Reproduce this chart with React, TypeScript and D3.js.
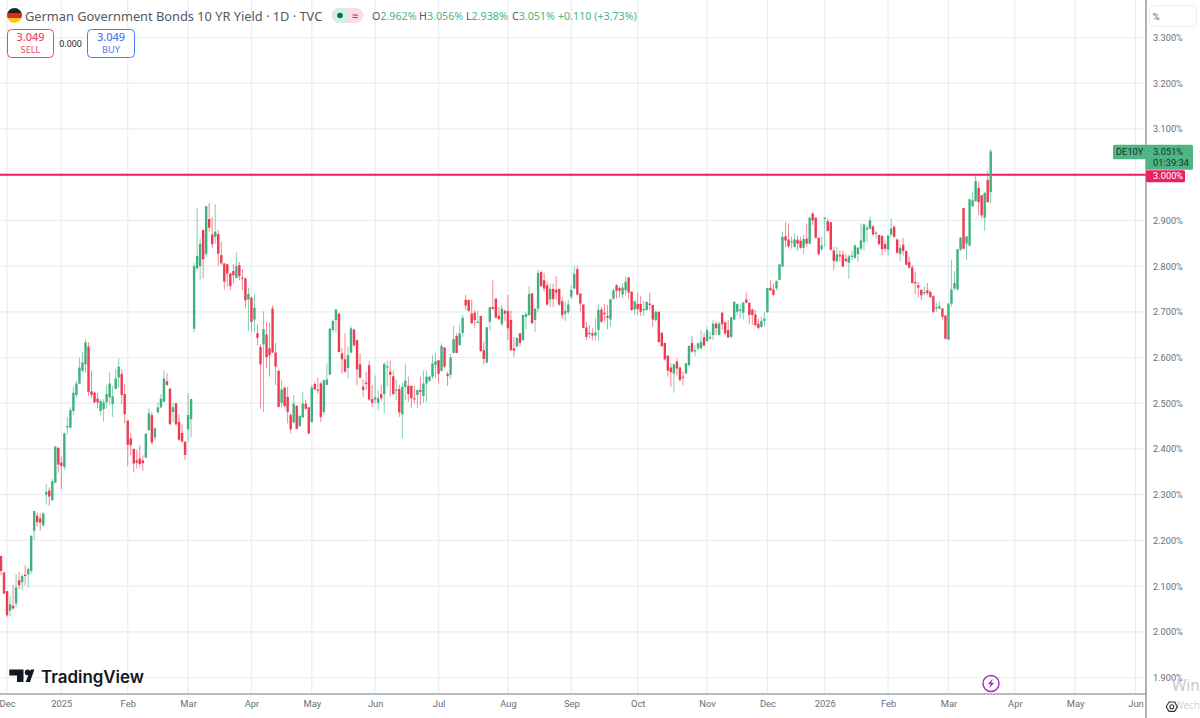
import React, { useRef, useEffect } from 'react';
import * as d3 from 'd3';

type Ohlc = [number, number, number, number]; // open, high, low, close

const dec2024: Ohlc[] = [
  [2.166,2.166,2.124,2.133],[2.130,2.130,2.082,2.084],[2.089,2.089,2.033,2.036],[2.046,2.078,2.033,2.060],[2.057,2.102,2.049,2.051],
  [2.062,2.126,2.053,2.097],[2.113,2.131,2.093,2.102],[2.108,2.127,2.092,2.122],[2.125,2.146,2.102,2.122],[2.126,2.141,2.097,2.137],
  [2.133,2.211,2.126,2.210],[2.221,2.264,2.201,2.264],[2.254,2.261,2.230,2.240],[2.248,2.259,2.221,2.239],[2.233,2.261,2.230,2.259],
  [2.300,2.323,2.278,2.306],[2.309,2.316,2.275,2.296],[2.288,2.334,2.286,2.329],[2.326,2.407,2.325,2.405],[2.402,2.405,2.348,2.366],
];
const jan2025: Ohlc[] = [
  [2.370,2.383,2.312,2.363],[2.361,2.436,2.354,2.434],[2.447,2.470,2.432,2.450],[2.447,2.491,2.443,2.485],[2.483,2.537,2.474,2.523],
  [2.518,2.549,2.512,2.543],[2.543,2.600,2.542,2.578],[2.571,2.612,2.567,2.589],[2.585,2.640,2.567,2.633],[2.624,2.633,2.516,2.525],
  [2.526,2.571,2.511,2.518],[2.523,2.525,2.500,2.502],[2.510,2.523,2.489,2.502],[2.483,2.509,2.474,2.505],[2.487,2.509,2.460,2.502],
  [2.502,2.540,2.489,2.520],[2.513,2.569,2.496,2.543],[2.498,2.538,2.470,2.515],[2.531,2.575,2.531,2.554],[2.556,2.598,2.534,2.580],
  [2.564,2.575,2.498,2.518],[2.520,2.542,2.456,2.476],
];
const feb2025: Ohlc[] = [
  [2.462,2.462,2.363,2.409],[2.423,2.436,2.386,2.408],[2.400,2.400,2.349,2.368],[2.375,2.398,2.357,2.370],[2.379,2.409,2.359,2.367],
  [2.375,2.386,2.352,2.369],[2.381,2.435,2.380,2.433],[2.441,2.489,2.440,2.478],[2.474,2.481,2.410,2.414],[2.425,2.447,2.418,2.445],
  [2.480,2.502,2.478,2.491],[2.491,2.520,2.489,2.510],[2.503,2.571,2.502,2.554],[2.548,2.566,2.538,2.540],[2.532,2.532,2.452,2.454],
  [2.481,2.500,2.458,2.491],[2.500,2.500,2.451,2.454],[2.459,2.476,2.418,2.420],[2.435,2.454,2.414,2.416],[2.416,2.416,2.376,2.387],
];
const mar2025: Ohlc[] = [
  [2.443,2.521,2.416,2.474],[2.465,2.510,2.425,2.509],[2.663,2.807,2.656,2.800],[2.795,2.928,2.793,2.822],[2.800,2.860,2.771,2.849],
  [2.879,2.879,2.773,2.815],[2.827,2.931,2.820,2.931],[2.903,2.938,2.875,2.884],[2.869,2.908,2.840,2.848],[2.864,2.935,2.849,2.875],
  [2.870,2.879,2.800,2.827],[2.824,2.853,2.802,2.806],[2.806,2.806,2.749,2.766],[2.804,2.804,2.755,2.784],[2.784,2.785,2.747,2.756],
  [2.789,2.804,2.762,2.780],[2.774,2.830,2.773,2.800],[2.802,2.809,2.769,2.778],[2.775,2.793,2.747,2.773],[2.773,2.775,2.707,2.725],
  [2.727,2.753,2.658,2.739],
];
const apr2025: Ohlc[] = [
  [2.731,2.733,2.656,2.678],[2.683,2.739,2.656,2.709],[2.653,2.672,2.626,2.643],[2.623,2.629,2.488,2.585],[2.629,2.701,2.481,2.662],
  [2.650,2.678,2.576,2.601],[2.620,2.676,2.558,2.605],[2.707,2.714,2.609,2.611],[2.611,2.632,2.540,2.580],[2.571,2.572,2.491,2.492],
  [2.501,2.550,2.491,2.530],[2.534,2.536,2.492,2.494],[2.514,2.536,2.456,2.481],[2.474,2.478,2.435,2.443],[2.458,2.518,2.456,2.499],
  [2.494,2.496,2.443,2.444],[2.450,2.474,2.448,2.472],[2.469,2.525,2.467,2.499],[2.499,2.507,2.486,2.488],[2.491,2.492,2.432,2.434],
];
const may2025: Ohlc[] = [
  [2.459,2.540,2.457,2.534],[2.542,2.547,2.529,2.530],[2.530,2.556,2.521,2.529],[2.543,2.547,2.459,2.470],[2.481,2.552,2.474,2.550],
  [2.540,2.587,2.539,2.552],[2.563,2.665,2.561,2.663],[2.660,2.683,2.654,2.680],[2.682,2.707,2.656,2.705],[2.696,2.698,2.611,2.612],
  [2.609,2.620,2.565,2.596],[2.596,2.653,2.567,2.569],[2.577,2.623,2.554,2.605],[2.611,2.669,2.609,2.664],[2.661,2.663,2.623,2.627],
  [2.638,2.639,2.540,2.574],[2.585,2.609,2.554,2.556],[2.536,2.552,2.514,2.529],[2.545,2.569,2.529,2.542],[2.583,2.593,2.505,2.508],
  [2.509,2.540,2.492,2.501],
];
const jun2025: Ohlc[] = [
  [2.508,2.561,2.499,2.513],[2.501,2.529,2.485,2.511],[2.520,2.540,2.505,2.511],[2.520,2.589,2.478,2.586],[2.578,2.593,2.536,2.581],
  [2.569,2.593,2.514,2.562],[2.559,2.571,2.517,2.520],[2.529,2.551,2.507,2.530],[2.531,2.540,2.470,2.480],[2.476,2.545,2.423,2.536],
  [2.536,2.587,2.507,2.549],[2.538,2.558,2.503,2.520],[2.538,2.538,2.490,2.511],[2.511,2.538,2.500,2.509],[2.518,2.529,2.489,2.529],
  [2.529,2.558,2.496,2.525],[2.516,2.571,2.500,2.543],[2.543,2.571,2.503,2.558],[2.549,2.559,2.547,2.558],[2.558,2.605,2.554,2.587],
  [2.584,2.610,2.554,2.592],
];
const jul2025: Ohlc[] = [
  [2.594,2.594,2.543,2.564],[2.571,2.631,2.569,2.625],[2.622,2.622,2.576,2.580],[2.564,2.569,2.538,2.559],[2.562,2.609,2.554,2.600],
  [2.610,2.669,2.609,2.640],[2.647,2.653,2.609,2.610],[2.627,2.672,2.626,2.653],[2.654,2.693,2.645,2.687],[2.726,2.737,2.704,2.714],
  [2.726,2.726,2.700,2.702],[2.696,2.727,2.673,2.675],[2.698,2.704,2.665,2.682],[2.676,2.702,2.675,2.678],[2.691,2.691,2.612,2.614],
  [2.616,2.635,2.585,2.597],[2.589,2.667,2.587,2.666],[2.678,2.711,2.660,2.710],[2.710,2.769,2.705,2.706],[2.729,2.729,2.686,2.687],
  [2.691,2.711,2.682,2.684],[2.673,2.715,2.669,2.707],[2.702,2.705,2.680,2.696],
];
const aug2025: Ohlc[] = [
  [2.702,2.737,2.638,2.664],[2.682,2.702,2.615,2.616],[2.620,2.645,2.602,2.615],[2.624,2.643,2.622,2.643],[2.653,2.653,2.624,2.632],
  [2.638,2.693,2.637,2.693],[2.689,2.700,2.662,2.695],[2.693,2.756,2.691,2.739],[2.740,2.742,2.673,2.675],[2.682,2.707,2.656,2.707],
  [2.707,2.793,2.700,2.785],[2.787,2.790,2.755,2.756],[2.769,2.785,2.744,2.751],[2.758,2.766,2.713,2.716],[2.727,2.762,2.711,2.750],
  [2.750,2.762,2.710,2.728],[2.748,2.778,2.726,2.742],[2.750,2.751,2.713,2.716],[2.723,2.733,2.686,2.693],[2.696,2.722,2.680,2.702],
  [2.699,2.726,2.695,2.716],
];
const sep2025: Ohlc[] = [
  [2.733,2.758,2.728,2.748],[2.751,2.800,2.749,2.783],[2.793,2.800,2.735,2.738],[2.740,2.740,2.700,2.718],[2.716,2.716,2.664,2.665],
  [2.666,2.678,2.638,2.645],[2.654,2.671,2.642,2.653],[2.653,2.664,2.638,2.648],[2.648,2.686,2.637,2.655],[2.660,2.717,2.637,2.704],
  [2.705,2.711,2.676,2.678],[2.698,2.718,2.680,2.695],[2.691,2.715,2.662,2.687],[2.683,2.729,2.667,2.727],[2.729,2.751,2.726,2.747],
  [2.758,2.760,2.729,2.746],[2.752,2.756,2.731,2.746],[2.738,2.762,2.729,2.753],[2.747,2.778,2.735,2.766],[2.775,2.775,2.729,2.742],
  [2.744,2.744,2.702,2.704],[2.705,2.724,2.693,2.723],
];
const oct2025: Ohlc[] = [
  [2.717,2.742,2.693,2.706],[2.717,2.734,2.691,2.700],[2.704,2.724,2.691,2.706],[2.704,2.722,2.702,2.722],[2.718,2.742,2.704,2.715],
  [2.715,2.715,2.667,2.683],[2.682,2.704,2.678,2.700],[2.700,2.700,2.632,2.634],[2.654,2.656,2.623,2.625],[2.632,2.632,2.594,2.596],
  [2.604,2.605,2.558,2.571],[2.578,2.587,2.536,2.568],[2.565,2.587,2.523,2.585],[2.591,2.598,2.561,2.576],[2.578,2.580,2.547,2.551],
  [2.558,2.569,2.540,2.556],[2.565,2.588,2.564,2.587],[2.583,2.627,2.581,2.625],[2.632,2.647,2.610,2.613],[2.614,2.627,2.603,2.616],
  [2.620,2.632,2.616,2.631],[2.620,2.660,2.618,2.634],[2.644,2.653,2.625,2.626],
];
const nov2025: Ohlc[] = [
  [2.636,2.667,2.634,2.660],[2.642,2.656,2.638,2.645],[2.649,2.682,2.638,2.674],[2.674,2.678,2.649,2.664],[2.649,2.678,2.649,2.674],
  [2.698,2.699,2.661,2.673],[2.677,2.678,2.649,2.653],[2.660,2.682,2.642,2.644],[2.645,2.689,2.642,2.688],[2.683,2.723,2.682,2.722],
  [2.700,2.718,2.693,2.717],[2.702,2.718,2.685,2.705],[2.698,2.722,2.683,2.720],[2.727,2.742,2.718,2.720],[2.720,2.720,2.673,2.693],
  [2.705,2.707,2.671,2.693],[2.694,2.704,2.667,2.671],[2.674,2.685,2.661,2.665],[2.667,2.689,2.665,2.680],[2.680,2.700,2.667,2.685],
];
const dec2025: Ohlc[] = [
  [2.699,2.753,2.698,2.752],[2.752,2.769,2.745,2.747],[2.749,2.762,2.735,2.737],[2.751,2.769,2.747,2.767],[2.770,2.805,2.769,2.804],
  [2.799,2.875,2.798,2.864],[2.865,2.896,2.842,2.856],[2.858,2.893,2.840,2.843],[2.851,2.864,2.838,2.854],[2.842,2.871,2.840,2.858],
  [2.858,2.867,2.834,2.849],[2.855,2.864,2.838,2.840],[2.840,2.869,2.827,2.859],[2.860,2.893,2.842,2.849],[2.849,2.906,2.848,2.906],
  [2.915,2.918,2.889,2.900],[2.906,2.906,2.860,2.862],[2.862,2.862,2.823,2.826],[2.837,2.864,2.833,2.845],
];
const jan2026: Ohlc[] = [
  [2.904,2.906,2.842,2.906],[2.898,2.904,2.875,2.877],[2.896,2.896,2.834,2.836],[2.834,2.842,2.791,2.811],[2.811,2.842,2.807,2.826],
  [2.824,2.834,2.809,2.821],[2.825,2.834,2.798,2.799],[2.816,2.827,2.807,2.811],[2.807,2.826,2.772,2.821],[2.820,2.834,2.813,2.823],
  [2.818,2.848,2.816,2.845],[2.826,2.842,2.809,2.840],[2.838,2.893,2.834,2.856],[2.853,2.893,2.834,2.891],[2.880,2.889,2.853,2.884],
  [2.882,2.909,2.880,2.900],[2.887,2.889,2.867,2.869],[2.871,2.878,2.860,2.873],[2.868,2.869,2.845,2.848],[2.866,2.867,2.823,2.837],
  [2.848,2.856,2.831,2.838],
];
const feb2026: Ohlc[] = [
  [2.836,2.867,2.823,2.867],[2.869,2.904,2.864,2.882],[2.886,2.889,2.862,2.864],[2.858,2.861,2.827,2.829],[2.827,2.848,2.811,2.840],
  [2.847,2.861,2.823,2.833],[2.833,2.834,2.802,2.803],[2.809,2.821,2.794,2.797],[2.797,2.802,2.762,2.763],[2.765,2.787,2.738,2.762],
  [2.758,2.765,2.731,2.753],[2.748,2.749,2.725,2.736],[2.740,2.756,2.736,2.743],[2.747,2.763,2.736,2.741],[2.743,2.747,2.730,2.732],
  [2.734,2.736,2.697,2.700],[2.707,2.721,2.700,2.710],[2.707,2.723,2.705,2.712],[2.707,2.708,2.683,2.689],[2.692,2.692,2.640,2.641],
];
const mar2026: Ohlc[] = [
  [2.639,2.718,2.638,2.718],[2.718,2.814,2.711,2.749],[2.751,2.789,2.747,2.763],[2.749,2.837,2.747,2.837],[2.836,2.864,2.833,2.862],
  [2.927,2.927,2.837,2.838],[2.849,2.865,2.813,2.865],[2.845,2.947,2.843,2.946],[2.931,2.962,2.929,2.944],[2.942,2.998,2.940,2.986],
  [2.971,2.984,2.911,2.940],[2.955,2.955,2.904,2.911],[2.906,2.962,2.877,2.960],[2.988,3.009,2.939,2.940],[2.962,3.056,2.938,3.051],
];

const bars: Ohlc[] = [
  ...dec2024, ...jan2025, ...feb2025, ...mar2025, ...apr2025, ...may2025, ...jun2025, ...jul2025,
  ...aug2025, ...sep2025, ...oct2025, ...nov2025, ...dec2025, ...jan2026, ...feb2026, ...mar2026,
];

// bar index of the first session of each month, the last three are in the empty space on the right
const monthBars = [2, 20, 42, 62, 83, 103, 124, 145, 168, 189, 211, 234, 254, 273, 294, 314, 336, 356, 376];
const monthLabels = ['Dec', '2025', 'Feb', 'Mar', 'Apr', 'May', 'Jun', 'Jul', 'Aug', 'Sep', 'Oct', 'Nov', 'Dec', '2026', 'Feb', 'Mar', 'Apr', 'May', 'Jun'];
const priceTicks = [1.9, 2.0, 2.1, 2.2, 2.3, 2.4, 2.5, 2.6, 2.7, 2.8, 2.9, 3.0, 3.1, 3.2, 3.3];

const levelPrice = 3.0;
const lastPrice = 3.051;
const legendOhlc = [['O', '2.962%'], ['H', '3.056%'], ['L', '2.938%'], ['C', '3.051%']];

const WIDTH = 1200;
const HEIGHT = 718;
const AXIS_X = 1146;
const AXIS_Y = 694;
const GREEN = '#3db17e';
const RED = '#ef3a52';
const FONT = '"Noto Sans", sans-serif';
const AXIS_FONT = 'Roboto, sans-serif';

const dibujaGrafico = (svgEl: SVGSVGElement) => {
  const svg = d3.select(svgEl);
  svg.selectAll('*').remove();

  const x = d3.scaleLinear().domain([0, bars.length - 1]).range([1, 990.7]);
  const y = d3.scaleLinear().domain([1.9, 3.3]).range([677.5, 37.5]);

  svg.append('rect').attr('width', WIDTH).attr('height', HEIGHT).attr('fill', '#fff');

  // grid
  const grid = svg.append('g').attr('stroke', '#e7eef4').attr('stroke-width', 1.2);
  monthBars.forEach((b) => {
    grid.append('line').attr('x1', x(b)).attr('x2', x(b)).attr('y1', 0).attr('y2', AXIS_Y);
  });
  priceTicks.forEach((t) => {
    grid.append('line').attr('x1', 0).attr('x2', AXIS_X).attr('y1', y(t)).attr('y2', y(t));
  });

  // 3% level
  svg.append('line')
    .attr('x1', 0).attr('x2', AXIS_X)
    .attr('y1', y(levelPrice)).attr('y2', y(levelPrice))
    .attr('stroke', '#ef1a5e').attr('stroke-width', 2);

  // candles
  const candle = svg.append('g').selectAll('g').data(bars).enter().append('g');
  candle.append('line')
    .attr('x1', (d, i) => x(i)).attr('x2', (d, i) => x(i))
    .attr('y1', (d) => y(d[1])).attr('y2', (d) => y(d[2]))
    .attr('stroke', (d) => (d[3] >= d[0] ? GREEN : RED))
    .attr('stroke-width', 1)
    .attr('stroke-opacity', 0.62);
  candle.append('rect')
    .attr('x', (d, i) => x(i) - 1.2)
    .attr('width', 2.4)
    .attr('y', (d) => y(Math.max(d[0], d[3])))
    .attr('height', (d) => Math.max(1.2, Math.abs(y(d[0]) - y(d[3]))))
    .attr('fill', (d) => (d[3] >= d[0] ? GREEN : RED));

  // axes
  const ejeY = svg.append('g')
    .attr('transform', `translate(${AXIS_X},0)`)
    .call(d3.axisRight(y).tickValues(priceTicks).tickSize(0).tickPadding(7).tickFormat((d) => `${(+d).toFixed(3)}%`));
  ejeY.select('.domain').remove();
  ejeY.selectAll('text')
    .style('font-family', AXIS_FONT).style('font-size', '9.2px').style('fill', '#6a6d78');

  const ejeX = svg.append('g')
    .attr('transform', `translate(0,${AXIS_Y})`)
    .call(d3.axisBottom(x).tickValues(monthBars).tickSize(0).tickPadding(6).tickFormat((d, i) => monthLabels[i]));
  ejeX.select('.domain').remove();
  ejeX.selectAll('text')
    .style('font-family', AXIS_FONT).style('font-size', '9.4px').style('fill', '#6a6d78');

  svg.append('line').attr('x1', 0).attr('x2', AXIS_X).attr('y1', AXIS_Y).attr('y2', AXIS_Y)
    .attr('stroke', '#77797f').attr('stroke-width', 1);
  svg.append('line').attr('x1', AXIS_X).attr('x2', AXIS_X).attr('y1', 0).attr('y2', HEIGHT)
    .attr('stroke', '#8e9094').attr('stroke-width', 1.4);

  // unit button on the price scale
  svg.append('rect').attr('x', 1149.5).attr('y', 5.5).attr('width', 47).attr('height', 21).attr('rx', 4)
    .attr('fill', '#fff').attr('stroke', '#eeeeee');
  svg.append('text').attr('x', 1152.5).attr('y', 19.5).text('%')
    .style('font-family', AXIS_FONT).style('font-size', '9.6px').style('fill', '#4a5a70');

  agregaEtiquetas(svg, y);
  agregaLeyenda(svg);
  agregaMarcas(svg);
};

const agregaEtiquetas = (svg: d3.Selection<SVGSVGElement, unknown, null, undefined>, y: d3.ScaleLinear<number, number>) => {
  const top = y(lastPrice) - 6.5;
  svg.append('rect').attr('x', 1113).attr('y', top).attr('width', 33).attr('height', 14.5).attr('rx', 1.5).attr('fill', '#4fb585');
  svg.append('rect').attr('x', AXIS_X).attr('y', top).attr('width', 47).attr('height', 25).attr('rx', 1.5).attr('fill', '#4fb585');
  svg.append('rect').attr('x', AXIS_X).attr('y', y(levelPrice) - 4.5).attr('width', 39).attr('height', 12).attr('rx', 1.5).attr('fill', '#ec1f63');

  const texto = (xp: number, yp: number, t: string, fill: string) =>
    svg.append('text').attr('x', xp).attr('y', yp).text(t)
      .style('font-family', AXIS_FONT).style('font-size', '9.3px').style('fill', fill);
  texto(1116, top + 10.5, 'DE10Y', '#12352a');
  texto(1153, top + 10.5, `${lastPrice.toFixed(3)}%`, '#12352a');
  texto(1153, top + 21.5, '01:39:34', '#12352a');
  texto(1153, y(levelPrice) + 4.8, `${levelPrice.toFixed(3)}%`, '#ffffff');
};

const agregaLeyenda = (svg: d3.Selection<SVGSVGElement, unknown, null, undefined>) => {
  // flag
  const cx = 14.5;
  const cy = 15.5;
  const r = 7.5;
  svg.append('clipPath').attr('id', 'flag').append('circle').attr('cx', cx).attr('cy', cy).attr('r', r);
  const flag = svg.append('g').attr('clip-path', 'url(#flag)');
  ['#222222', '#dd2a1e', '#f7c71c'].forEach((c, i) => {
    flag.append('rect').attr('x', cx - r).attr('y', cy - r + (i * 2 * r) / 3).attr('width', 2 * r).attr('height', (2 * r) / 3 + 0.2).attr('fill', c);
  });

  svg.append('text').attr('x', 25).attr('y', 20.5).text('German Government Bonds 10 YR Yield · 1D · TVC')
    .style('font-family', FONT).style('font-size', '12.8px').style('fill', '#55585f');

  // status pill
  svg.append('path').attr('d', 'M339 8 a7.5 7.5 0 0 0 0 15 h9 v-15 z').attr('fill', '#d5efe6');
  svg.append('path').attr('d', 'M348 8 h8 a7.5 7.5 0 0 1 0 15 h-8 z').attr('fill', '#fcdde7');
  svg.append('circle').attr('cx', 340).attr('cy', 15.5).attr('r', 2.8).attr('fill', '#0b6b5b');
  svg.append('text').attr('x', 355).attr('y', 19.5).attr('text-anchor', 'middle').text('≈')
    .style('font-family', FONT).style('font-size', '11px').style('font-weight', 'bold').style('fill', '#d3386c');

  const xs = [372, 419, 466, 512];
  legendOhlc.forEach(([k, v], i) => {
    const t = svg.append('text').attr('x', xs[i]).attr('y', 20).style('font-family', FONT).style('font-size', '10.7px');
    t.append('tspan').text(k).style('fill', '#55585f');
    t.append('tspan').text(v).style('fill', '#4cb585');
  });
  svg.append('text').attr('x', 558).attr('y', 20).text('+0.110 (+3.73%)')
    .style('font-family', FONT).style('font-size', '10.7px').style('fill', '#4cb585');

  // sell and buy buttons
  const boton = (xp: number, w: number, color: string, precio: string, rotulo: string) => {
    svg.append('rect').attr('x', xp).attr('y', 29.5).attr('width', w).attr('height', 28).attr('rx', 4)
      .attr('fill', '#fff').attr('stroke', color);
    svg.append('text').attr('x', xp + w / 2).attr('y', 41).attr('text-anchor', 'middle').text(precio)
      .style('font-family', FONT).style('font-size', '11px').style('font-weight', 500).style('fill', color);
    svg.append('text').attr('x', xp + w / 2).attr('y', 53).attr('text-anchor', 'middle').text(rotulo)
      .style('font-family', FONT).style('font-size', '9.2px').style('fill', color);
  };
  boton(7.5, 46, '#f0485e', '3.049', 'SELL');
  boton(87.5, 47, '#4a7cf3', '3.049', 'BUY');
  svg.append('text').attr('x', 70.5).attr('y', 47).attr('text-anchor', 'middle').text('0.000')
    .style('font-family', FONT).style('font-size', '8.8px').style('fill', '#222');
};

const agregaMarcas = (svg: d3.Selection<SVGSVGElement, unknown, null, undefined>) => {
  // TradingView logo
  const logo = svg.append('g').attr('fill', '#131722');
  logo.append('path').attr('d', 'M9.3 669.5 H23.5 V682 H17 V675.5 H9.3 Z');
  logo.append('circle').attr('cx', 27.6).attr('cy', 672.4).attr('r', 2.8);
  logo.append('path').attr('d', 'M30.8 669.5 H34.4 L30 682 H25.6 Z');
  svg.append('text').attr('x', 41).attr('y', 682.5).text('TradingView')
    .style('font-family', '"Inter", sans-serif').style('font-size', '16.9px').style('font-weight', 600).style('fill', '#131722');

  // lightning badge
  svg.append('circle').attr('cx', 991).attr('cy', 683.5).attr('r', 8)
    .attr('fill', '#fff').attr('stroke', '#a62bc0').attr('stroke-width', 1.4);
  svg.append('path').attr('d', 'M993 678.5 L987.8 684.3 H990.8 L989 688.5 L994.2 682.7 H991.2 Z').attr('fill', '#a62bc0');

  // activation watermark from the original screenshot, the settings button sits over it
  svg.append('text').attr('x', 1172).attr('y', 691).text('Win')
    .style('font-family', FONT).style('font-size', '15.4px').style('fill', '#c9c9c9');
  svg.append('text').attr('x', 1174.5).attr('y', 709).text('Wech')
    .style('font-family', FONT).style('font-size', '10px').style('fill', '#d6d6d6');

  svg.append('path').attr('d', 'M1166.2 706.7 L1169 702 H1174.6 L1177.4 706.7 L1174.6 711.4 H1169 Z')
    .attr('fill', 'none').attr('stroke', '#333').attr('stroke-width', 1.1);
  svg.append('circle').attr('cx', 1171.8).attr('cy', 706.7).attr('r', 2).attr('fill', 'none').attr('stroke', '#333').attr('stroke-width', 1.1);
};

const App: React.FC = () => {
  const svgRef = useRef<SVGSVGElement | null>(null);

  useEffect(() => {
    if (!svgRef.current) return;
    dibujaGrafico(svgRef.current);
  }, []);

  return (
    <svg
      ref={svgRef}
      width={WIDTH}
      height={HEIGHT}
      style={{ position: 'absolute', left: 0, top: 0, display: 'block' }}
    ></svg>
  );
};

export default App;
